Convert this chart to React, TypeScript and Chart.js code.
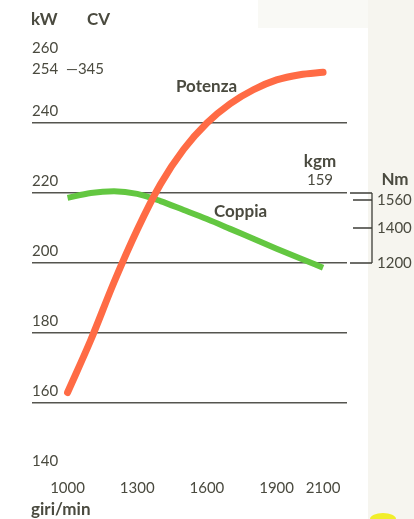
import React, { useEffect, useRef } from "react";
import { Chart, registerables } from "chart.js";

Chart.register(...registerables);

const rpm = [1000, 1100, 1200, 1300, 1400, 1500, 1600, 1700, 1800, 1900, 2000, 2100];
const potenzaKW = [163, 178, 194.5, 209.5, 222.5, 232.5, 240, 245.5, 249.5, 252.3, 253.8, 254.5];
const coppiaNm = [1572, 1600, 1610, 1595, 1554, 1503, 1451, 1395, 1338, 1282, 1227, 1173];

const kwTicks = [140, 160, 180, 200, 220, 240, 260];
const rpmTicks = [1000, 1300, 1600, 1900, 2100];
const nmTicks = [1200, 1400, 1560];
const nmBracket = [1200, 1600];
const peakKW = 254;
const peakCV = 345;
const peakKgm = 159;

const TEXT = "#4a4a3f";
const FONT = "Lato, 'Open Sans', sans-serif";

const decorPlugin = {
  id: "decor",
  beforeDraw(chart: any) {
    const { ctx, width, height } = chart;
    ctx.save();
    ctx.fillStyle = "#ffffff";
    ctx.fillRect(0, 0, width, height);
    ctx.fillStyle = "#f6f5ef";
    ctx.fillRect(368, 0, width - 368, height);
    ctx.fillStyle = "#f9f9f5";
    ctx.fillRect(258, 0, 110, 28);
    ctx.fillStyle = "#f1ee2a";
    ctx.beginPath();
    ctx.ellipse(383, 519, 13, 6, 0, 0, Math.PI * 2);
    ctx.fill();
    ctx.restore();
  },
  afterDraw(chart: any) {
    const { ctx } = chart;
    const x = chart.scales.x;
    const y = chart.scales.y;
    const y2 = chart.scales.y2;
    ctx.save();
    ctx.fillStyle = TEXT;
    ctx.textBaseline = "middle";

    // left kW ticks
    ctx.font = `15px ${FONT}`;
    ctx.textAlign = "left";
    kwTicks.forEach((v) => {
      const off = v >= 260 ? -5 : -12;
      ctx.fillText(String(v), 32, y.getPixelForValue(v) + off);
    });
    ctx.fillText(String(peakKW), 32, y.getPixelForValue(peakKW) - 5);
    ctx.fillText("\u2014" + peakCV, 66, y.getPixelForValue(peakKW) - 5);

    // x ticks
    ctx.textAlign = "center";
    rpmTicks.forEach((v) => {
      ctx.fillText(String(v), x.getPixelForValue(v), 488);
    });

    // right Nm ticks
    ctx.textAlign = "left";
    nmTicks.forEach((v) => {
      ctx.fillText(String(v), 377, y2.getPixelForValue(v));
    });
    ctx.textAlign = "center";
    ctx.fillText(String(peakKgm), 320, 180);

    // bracket
    ctx.strokeStyle = "#3e3e38";
    ctx.lineWidth = 1.3;
    const top = y2.getPixelForValue(nmBracket[1]);
    const bot = y2.getPixelForValue(nmBracket[0]);
    ctx.beginPath();
    ctx.moveTo(372, top);
    ctx.lineTo(372, bot);
    ctx.moveTo(350, top);
    ctx.lineTo(372, top);
    ctx.moveTo(350, bot);
    ctx.lineTo(372, bot);
    nmTicks.forEach((v) => {
      if (v === nmBracket[0]) return;
      const p = y2.getPixelForValue(v);
      ctx.moveTo(353, p);
      ctx.lineTo(372, p);
    });
    ctx.stroke();

    // bold labels
    ctx.font = `bold 17px ${FONT}`;
    ctx.textAlign = "left";
    ctx.fillText("kW", 31, 20);
    ctx.fillText("CV", 87, 20);
    ctx.fillText("giri/min", 31, 510);
    ctx.fillText("Potenza", 176, 87);
    ctx.fillText("Coppia", 214, 212);
    ctx.textAlign = "center";
    ctx.fillText("kgm", 320, 162);
    ctx.fillText("Nm", 395, 180);
    ctx.restore();
  },
};

export default function App() {
  const ref = useRef<HTMLCanvasElement | null>(null);
  useEffect(() => {
    if (!ref.current) return;
    const chart = new Chart(ref.current, {
      type: "line",
      data: {
        datasets: [
          {
            label: "Potenza",
            data: rpm.map((r, i) => ({ x: r, y: potenzaKW[i] })),
            yAxisID: "y",
            borderColor: "#ff6b45",
            borderWidth: 7,
            pointRadius: 0,
            cubicInterpolationMode: "monotone",
            borderCapStyle: "round",
          },
          {
            label: "Coppia",
            data: rpm.map((r, i) => ({ x: r, y: coppiaNm[i] })),
            yAxisID: "y2",
            borderColor: "#63c741",
            borderWidth: 6,
            pointRadius: 0,
            cubicInterpolationMode: "monotone",
            borderCapStyle: "butt",
          },
        ],
      },
      options: {
        responsive: false,
        animation: false,
        layout: { padding: { left: 32, right: 67, top: 53, bottom: 46 } },
        plugins: { legend: { display: false }, tooltip: { enabled: false } },
        scales: {
          x: { type: "linear", min: 847, max: 2203, display: false },
          y: {
            min: 140,
            max: 260,
            ticks: { display: false, stepSize: 20 },
            grid: {
              drawTicks: false,
              lineWidth: 1.5,
              color: (c: any) =>
                c.tick && c.tick.value >= 160 && c.tick.value <= 240 ? "#55554f" : "rgba(0,0,0,0)",
            },
            border: { display: false },
          },
          y2: { position: "right", min: 0, max: 2400, display: false },
        },
      },
      plugins: [decorPlugin],
    } as any);
    return () => chart.destroy();
  }, []);
  return (
    <div style={{ position: "fixed", left: 0, top: 0, width: 414, height: 519 }}>
      <canvas ref={ref} width={414} height={519} style={{ display: "block" }} />
    </div>
  );
}
